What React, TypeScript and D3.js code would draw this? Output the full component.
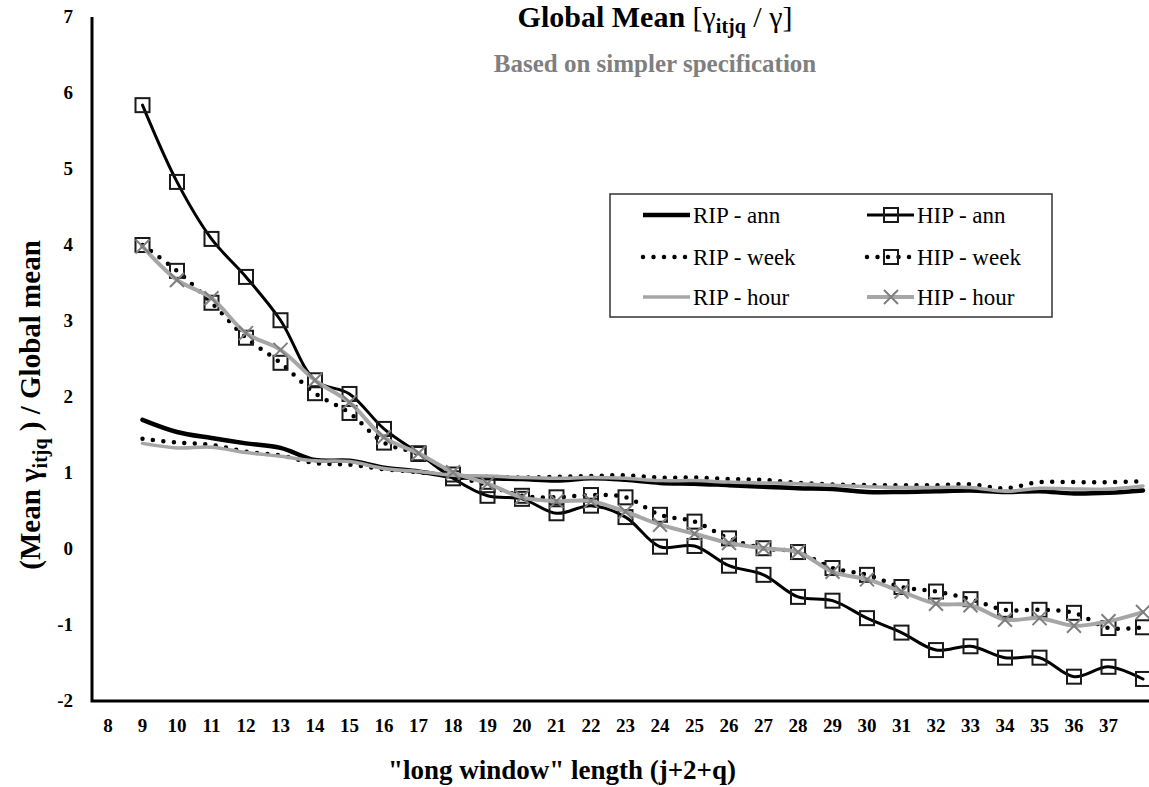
import React from "react";
import * as d3 from "d3";

// long-window lengths (j+2+q) for every observation
const windowLength = [9, 10, 11, 12, 13, 14, 15, 16, 17, 18, 19, 20, 21, 22, 23, 24, 25, 26, 27, 28, 29, 30, 31, 32, 33, 34, 35, 36, 37, 38];

const ripAnn = [1.70, 1.54, 1.46, 1.39, 1.33, 1.17, 1.16, 1.07, 1.02, 0.95, 0.93, 0.92, 0.90, 0.93, 0.91, 0.87, 0.86, 0.84, 0.82, 0.80, 0.79, 0.75, 0.75, 0.76, 0.77, 0.75, 0.76, 0.73, 0.74, 0.77];
const hipAnn = [5.84, 4.83, 4.08, 3.58, 3.01, 2.22, 2.04, 1.58, 1.26, 0.93, 0.70, 0.66, 0.47, 0.57, 0.42, 0.03, 0.04, -0.22, -0.34, -0.63, -0.68, -0.91, -1.10, -1.33, -1.28, -1.43, -1.43, -1.68, -1.55, -1.71];
const ripWeek = [1.45, 1.40, 1.37, 1.28, 1.23, 1.13, 1.11, 1.05, 1.01, 0.96, 0.95, 0.94, 0.95, 0.96, 0.97, 0.94, 0.94, 0.92, 0.91, 0.87, 0.85, 0.84, 0.84, 0.84, 0.85, 0.80, 0.88, 0.88, 0.88, 0.89];
const hipWeek = [4.00, 3.66, 3.24, 2.78, 2.45, 2.05, 1.79, 1.40, 1.25, 0.98, 0.84, 0.70, 0.68, 0.71, 0.68, 0.45, 0.36, 0.14, 0.01, -0.04, -0.25, -0.34, -0.50, -0.56, -0.66, -0.80, -0.80, -0.84, -1.04, -1.03];
const ripHour = [1.39, 1.33, 1.34, 1.27, 1.22, 1.16, 1.15, 1.06, 1.02, 0.97, 0.96, 0.94, 0.93, 0.94, 0.93, 0.90, 0.90, 0.88, 0.87, 0.86, 0.84, 0.82, 0.81, 0.81, 0.81, 0.76, 0.80, 0.79, 0.79, 0.83];
const hipHour = [3.98, 3.54, 3.30, 2.84, 2.62, 2.22, 1.93, 1.47, 1.26, 1.01, 0.86, 0.68, 0.63, 0.63, 0.49, 0.32, 0.20, 0.08, 0.01, -0.04, -0.30, -0.40, -0.56, -0.72, -0.74, -0.93, -0.91, -1.01, -0.95, -0.83];

const xTickLabels = [8, 9, 10, 11, 12, 13, 14, 15, 16, 17, 18, 19, 20, 21, 22, 23, 24, 25, 26, 27, 28, 29, 30, 31, 32, 33, 34, 35, 36, 37];
const yTickLabels = [-2, -1, 0, 1, 2, 3, 4, 5, 6, 7];

const seriesNames = ["RIP - ann", "HIP - ann", "RIP - week", "HIP - week", "RIP - hour", "HIP - hour"];

type Style = {
  color: string;
  width: number;
  dotted: boolean;
  marker: "none" | "square" | "cross";
};

const styles: Style[] = [
  { color: "#000", width: 4.5, dotted: false, marker: "none" },
  { color: "#000", width: 3, dotted: false, marker: "square" },
  { color: "#000", width: 4.5, dotted: true, marker: "none" },
  { color: "#000", width: 4.5, dotted: true, marker: "square" },
  { color: "#a6a6a6", width: 3.5, dotted: false, marker: "none" },
  { color: "#a6a6a6", width: 4, dotted: false, marker: "cross" },
];

const seriesValues = [ripAnn, hipAnn, ripWeek, hipWeek, ripHour, hipHour];

const W = 1149;
const H = 787;
const FONT = "'Liberation Serif', 'Times New Roman', serif";

const x = d3.scaleLinear().domain([8, 38]).range([108, 1143]);
const y = d3.scaleLinear().domain([-2, 7]).range([701, 17]);
const axisLeft = 92;

const line = d3
  .line<[number, number]>()
  .x((d) => x(d[0]))
  .y((d) => y(d[1]))
  .curve(d3.curveCatmullRom.alpha(0.5));

function Marker({ kind, cx, cy }: { kind: string; cx: number; cy: number }) {
  if (kind === "square") {
    return (
      <rect x={cx - 7} y={cy - 7} width={14} height={14} fill="none" stroke="#1a1a1a" strokeWidth={2} />
    );
  }
  if (kind === "cross") {
    const s = 7;
    return (
      <path
        d={`M${cx - s},${cy - s}L${cx + s},${cy + s}M${cx - s},${cy + s}L${cx + s},${cy - s}`}
        stroke="#7f7f7f"
        strokeWidth={2}
        fill="none"
      />
    );
  }
  return null;
}

function strokeProps(s: Style) {
  return s.dotted
    ? { stroke: s.color, strokeWidth: s.width, strokeDasharray: "0 10.5", strokeLinecap: "round" as const }
    : { stroke: s.color, strokeWidth: s.width, strokeLinecap: "round" as const };
}

export default function App() {
  const legendX = 610;
  const legendY = 194;
  const legendW = 442;
  const legendH = 123;
  const rowY = [215, 257, 297];
  const colX = [643, 867];

  return (
    <svg
      width={W}
      height={H}
      style={{ position: "absolute", left: 0, top: 0, background: "#fff" }}
      fontFamily={FONT}
    >
      <rect width={W} height={H} fill="#fff" />

      {/* titles */}
      <text x={655} y={27} textAnchor="middle" fontSize={30} fontWeight="bold" fill="#000">
        Global Mean{" "}
        <tspan fontWeight="normal">[γ</tspan>
        <tspan fontSize={20} dy={6} fontWeight="bold">itjq</tspan>
        <tspan dy={-6} fontWeight="normal"> / γ]</tspan>
      </text>
      <text x={655} y={72} textAnchor="middle" fontSize={25} fontWeight="bold" fill="#7f7f7f">
        Based on simpler specification
      </text>

      {/* axes */}
      <path d={`M${axisLeft},${y(7)}V${y(-2)}H${W}`} fill="none" stroke="#000" strokeWidth={3} />

      {yTickLabels.map((v) => (
        <text key={v} x={73} y={y(v) + 6} textAnchor="end" fontSize={19} fontWeight="bold">
          {v}
        </text>
      ))}
      {xTickLabels.map((v) => (
        <text key={v} x={x(v)} y={732} textAnchor="middle" fontSize={19} fontWeight="bold">
          {v}
        </text>
      ))}

      <text
        transform={`translate(40,405) rotate(-90)`}
        textAnchor="middle"
        fontSize={29}
        fontWeight="bold"
      >
        (Mean γ
        <tspan fontSize={20} dy={7}>itjq</tspan>
        <tspan dy={-7}> ) / Global mean</tspan>
      </text>
      <text x={562} y={779} textAnchor="middle" fontSize={27} fontWeight="bold">
        "long window" length (j+2+q)
      </text>

      {/* series */}
      {seriesValues.map((vals, i) => {
        const pts: [number, number][] = windowLength.map((w, k) => [w, vals[k]]);
        const s = styles[i];
        return (
          <g key={seriesNames[i]}>
            <path d={line(pts) || ""} fill="none" {...strokeProps(s)} />
            {pts.map((p, k) => (
              <Marker key={k} kind={s.marker} cx={x(p[0])} cy={y(p[1])} />
            ))}
          </g>
        );
      })}

      {/* legend */}
      <rect x={legendX} y={legendY} width={legendW} height={legendH} fill="#fff" stroke="#333" strokeWidth={1.5} />
      {seriesNames.map((name, i) => {
        const col = i % 2;
        const row = Math.floor(i / 2);
        const s = styles[i];
        const lx = colX[col];
        const ly = rowY[row];
        return (
          <g key={name}>
            <line x1={lx} x2={lx + 47} y1={ly} y2={ly} {...strokeProps(s)} strokeLinecap={s.dotted ? "round" : "butt"} />
            <Marker kind={s.marker} cx={lx + 24} cy={ly} />
            <text x={lx + 50} y={ly + 8} fontSize={23}>
              {name}
            </text>
          </g>
        );
      })}
    </svg>
  );
}
